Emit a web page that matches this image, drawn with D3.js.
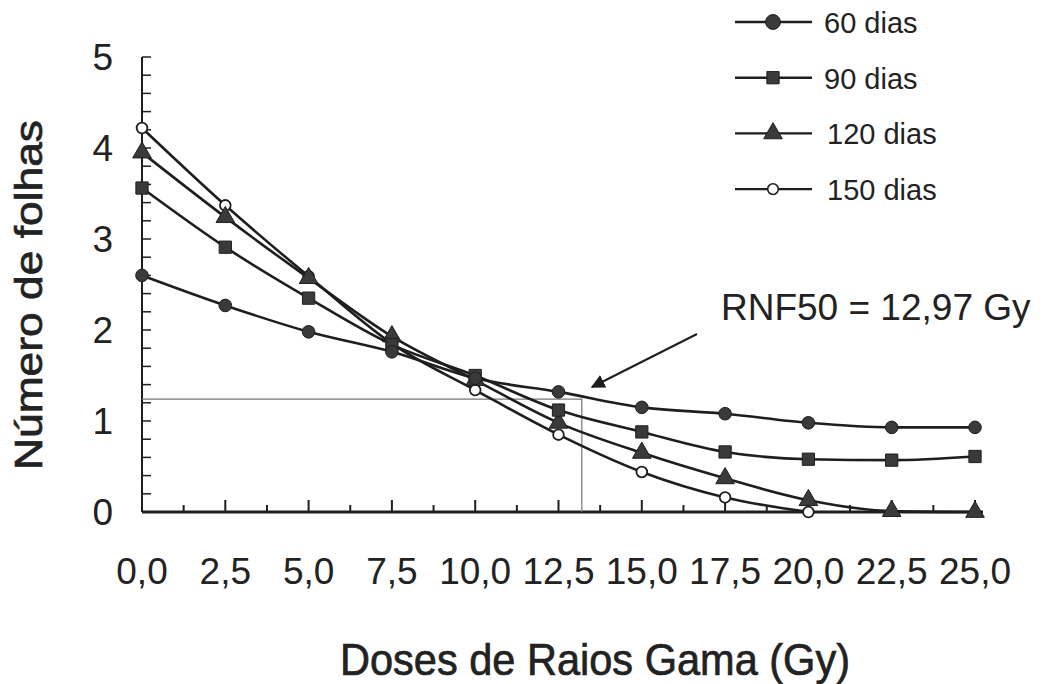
<!DOCTYPE html>
<html lang="pt">
<head>
    <meta charset="UTF-8">
    <title>Número de folhas</title>
    <script src="https://d3js.org/d3.v7.min.js"></script>
    <style>
        body { margin: 0; background: #fff; }
        text { font-family: "Liberation Sans", Arial, sans-serif; fill: #222; }
    </style>
</head>
<body>
    <div id="graph"></div>
    <script>
        // doses (Gy) e número de folhas por época de avaliação
        const doses = [0, 2.5, 5, 7.5, 10, 12.5, 15, 17.5, 20, 22.5, 25];
        const dias60 = [2.60, 2.27, 1.98, 1.76, 1.47, 1.32, 1.15, 1.08, 0.98, 0.93, 0.93];
        const dias90 = [3.56, 2.91, 2.35, 1.84, 1.50, 1.12, 0.88, 0.66, 0.58, 0.57, 0.61];
        const dias120 = [3.95, 3.24, 2.57, 1.93, 1.45, 0.98, 0.65, 0.37, 0.13, 0.01, 0.0];
        const dias150 = [4.22, 3.37, 2.59, 1.85, 1.34, 0.85, 0.44, 0.16, 0.0];
        const seriesNames = ["60 dias", "90 dias", "120 dias", "150 dias"];
        const xTicks = [0, 2.5, 5, 7.5, 10, 12.5, 15, 17.5, 20, 22.5, 25];
        const yTicks = [0, 1, 2, 3, 4, 5];
        const rnfX = 13.2, rnfY = 1.24;

        const W = 1043, H = 684;
        const svg = d3.select("#graph").append("svg")
            .attr("width", W).attr("height", H);

        const x = d3.scaleLinear().domain([0, 25]).range([142, 975]);
        const y = d3.scaleLinear().domain([0, 5]).range([512, 57]);

        const ink = "#1e1e1e";

        // eixo Y: linha, ticks a cada 0,2
        svg.append("line")
            .attr("x1", x(0)).attr("x2", x(0))
            .attr("y1", y(0)).attr("y2", y(5))
            .attr("stroke", ink).attr("stroke-width", 2);
        svg.selectAll(".ytick")
            .data(d3.range(0, 5.01, 0.2))
            .join("line")
            .attr("x1", x(0)).attr("x2", x(0) + 9)
            .attr("y1", d => y(d)).attr("y2", d => y(d))
            .attr("stroke", ink).attr("stroke-width", 1.5);
        svg.selectAll(".ylab")
            .data(yTicks)
            .join("text")
            .attr("x", 113).attr("y", d => y(d) + 13)
            .attr("text-anchor", "end")
            .attr("font-size", 37)
            .attr("fill", "#333")
            .text(d => d);

        // eixo X
        svg.append("line")
            .attr("x1", x(0)).attr("x2", x(25) + 8)
            .attr("y1", y(0)).attr("y2", y(0))
            .attr("stroke", ink).attr("stroke-width", 3);
        svg.selectAll(".xtick")
            .data(d3.range(0, 25.01, 1.25))
            .join("line")
            .attr("x1", d => x(d)).attr("x2", d => x(d))
            .attr("y1", y(0)).attr("y2", (d, i) => y(0) - (i % 2 === 0 ? 12 : 7))
            .attr("stroke", ink).attr("stroke-width", 2);
        svg.selectAll(".xlab")
            .data(xTicks)
            .join("text")
            .attr("x", d => x(d)).attr("y", 584)
            .attr("text-anchor", "middle")
            .attr("font-size", 37)
            .attr("fill", "#333")
            .text(d => d3.format(".1f")(d).replace(".", ","));

        // títulos
        svg.append("text")
            .attr("x", 340).attr("y", 675)
            .attr("font-size", 44)
            .attr("textLength", 510)
            .attr("lengthAdjust", "spacingAndGlyphs")
            .attr("stroke", "#222").attr("stroke-width", 0.7)
            .text("Doses de Raios Gama (Gy)");
        svg.append("text")
            .attr("transform", "translate(42,470) rotate(-90)")
            .attr("font-size", 38)
            .attr("textLength", 350)
            .attr("lengthAdjust", "spacingAndGlyphs")
            .attr("stroke", "#222").attr("stroke-width", 0.7)
            .text("Número de folhas");

        // linhas de referência RNF50
        svg.append("polyline")
            .attr("points", [[x(0), y(rnfY)], [x(rnfX), y(rnfY)], [x(rnfX), y(0)]].join(" "))
            .attr("fill", "none").attr("stroke", "#777").attr("stroke-width", 1.2);

        // séries
        const series = [dias60, dias90, dias120, dias150].map((v, i) => ({
            name: seriesNames[i],
            points: v.map((val, j) => ({ dose: doses[j], val }))
        }));
        const symbols = [
            { type: d3.symbolCircle, size: 125, fill: "#3a3a3a" },
            { type: d3.symbolSquare, size: 150, fill: "#3a3a3a" },
            { type: d3.symbolTriangle, size: 150, fill: "#3a3a3a" },
            { type: d3.symbolCircle, size: 90, fill: "#fff" }
        ];

        const line = d3.line()
            .x(d => x(d.dose)).y(d => y(d.val))
            .curve(d3.curveMonotoneX);

        // 150 dias por baixo, 60 dias por cima
        [3, 2, 1, 0].forEach(i => {
            const s = series[i];
            svg.append("path")
                .datum(s.points)
                .attr("d", line)
                .attr("fill", "none")
                .attr("stroke", ink)
                .attr("stroke-width", 2.6);
            svg.selectAll(".m" + i)
                .data(s.points)
                .join("path")
                .attr("transform", d => `translate(${x(d.dose)},${y(d.val)})`)
                .attr("d", d3.symbol().type(symbols[i].type).size(symbols[i].size))
                .attr("fill", symbols[i].fill)
                .attr("stroke", ink)
                .attr("stroke-width", i === 3 ? 1.8 : 1);
        });

        // anotação
        svg.append("defs").append("marker")
            .attr("id", "arrow")
            .attr("viewBox", "0 0 10 10")
            .attr("refX", 9).attr("refY", 5)
            .attr("markerWidth", 7).attr("markerHeight", 7)
            .attr("orient", "auto")
            .append("path")
            .attr("d", "M0,0 L10,5 L0,10 Z")
            .attr("fill", ink);
        svg.append("line")
            .attr("x1", 697).attr("y1", 334)
            .attr("x2", 592).attr("y2", 387)
            .attr("stroke", ink).attr("stroke-width", 2)
            .attr("marker-end", "url(#arrow)");
        svg.append("text")
            .attr("x", 721).attr("y", 320)
            .attr("font-size", 37)
            .attr("fill", "#333")
            .text("RNF50 = 12,97 Gy");

        // legenda
        const leg = svg.append("g");
        seriesNames.forEach((n, i) => {
            const ly = 22 + i * 55.7;
            leg.append("line")
                .attr("x1", 735).attr("x2", 812)
                .attr("y1", ly).attr("y2", ly)
                .attr("stroke", ink).attr("stroke-width", 2.4);
            leg.append("path")
                .attr("transform", `translate(773,${ly})`)
                .attr("d", d3.symbol().type(symbols[i].type).size(symbols[i].size * (i === 0 ? 1.4 : 1)))
                .attr("fill", symbols[i].fill)
                .attr("stroke", ink)
                .attr("stroke-width", i === 3 ? 1.6 : 1);
            leg.append("text")
                .attr("x", i < 2 ? 824 : 827).attr("y", ly + 11)
                .attr("font-size", 29)
                .attr("fill", "#444")
                .text(n);
        });
    </script>
</body>
</html>
